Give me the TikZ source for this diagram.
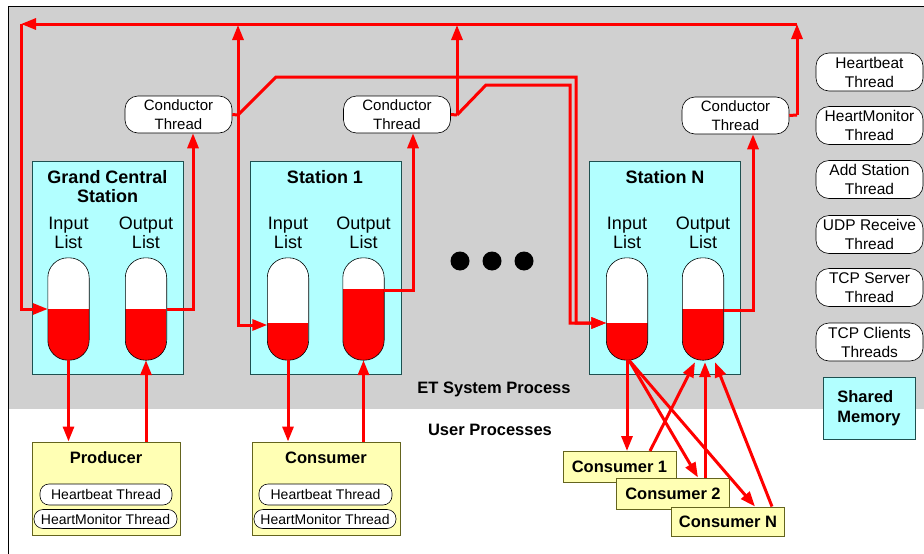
\documentclass[tikz,border=0pt]{standalone}
\usepackage{fontspec}
\setmainfont{Liberation Sans}
\usetikzlibrary{arrows.meta}

\definecolor{procgray}{RGB}{208,208,208}
\definecolor{stationcyan}{RGB}{178,255,255}
\definecolor{stationedge}{RGB}{30,80,80}
\definecolor{userfill}{RGB}{255,255,180}
\definecolor{useredge}{RGB}{100,100,30}
\definecolor{flowred}{RGB}{255,0,0}

% an event list drawn as a tube, filled with red up to a level
% #1 name, #2 centre x, #3 centre y, #4 y of the fill level
\newcommand\listtube[4]{%
  \node[tubeshape] (#1) at (#2,#3) {};
  \coordinate (#1lvl) at (#2,#4);
  \begin{scope}
    \clip[rounded corners=20pt] (#1.south west) rectangle (#1.north east);
    \fill[flowred] (#1.south west) rectangle (#1.east |- #1lvl);
  \end{scope}
  \draw[line width=0.6pt, rounded corners=20pt] (#1.south west) rectangle (#1.north east);
}

\begin{document}
\begin{tikzpicture}[x=1pt,y=-1pt,
  threadbox/.style={draw=black, fill=white, rounded corners=13pt, line width=0.6pt,
    minimum width=107pt, minimum height=37pt, inner sep=0pt, align=center,
    font=\fontsize{15}{19}\selectfont},
  sidethread/.style={threadbox, minimum height=38pt, font=\fontsize{15.5}{19}\selectfont},
  station/.style={draw=stationedge, fill=stationcyan, line width=1pt,
    minimum width=151pt, minimum height=213pt, inner sep=0pt},
  stationtitle/.style={font=\bfseries\fontsize{18}{19.5}\selectfont, align=center},
  listlabel/.style={font=\fontsize{18}{18.5}\selectfont, align=center},
  tubeshape/.style={fill=white, minimum width=41pt, minimum height=102pt,
    inner sep=0pt, rounded corners=20pt},
  userbox/.style={draw=useredge, fill=userfill, line width=1pt, inner sep=0pt},
  usertitle/.style={font=\bfseries\fontsize{16.5}{20}\selectfont},
  minithread/.style={draw=black, fill=white, rounded corners=9pt, line width=0.6pt,
    inner sep=0pt, font=\fontsize{14}{16}\selectfont},
  consumerbox/.style={userbox, minimum width=113pt, minimum height=31pt,
    font=\bfseries\fontsize{16.5}{20}\selectfont},
  flow/.style={draw=flowred, line width=3pt},
  flowarrow/.style={-{Triangle[length=15pt,width=11pt]}},
  proclabel/.style={font=\bfseries\fontsize{16.5}{20}\selectfont}
]
\useasboundingbox (0,0) rectangle (924,554);

% ET system process area and frame
\fill[procgray] (8,6) rectangle (924,409);
\draw[line width=1pt] (8,554) -- (8,6) -- (924,6);

% stations
\node[station] (gcs) at (107.5,267.5) {};
\node[station] (st1) at (325.5,267.5) {};
\node[station] (stN) at (665,267.5) {};

\node[stationtitle] (gcsT) at (107.5,186.5) {Grand Central\\Station};
\node[stationtitle] (st1T) at (325,177.5) {Station 1};
\node[stationtitle] (stNT) at (665,177.5) {Station N};

\node[listlabel] (giL) at (68.5,233) {Input\\List};
\node[listlabel] (goL) at (146,233) {Output\\List};
\node[listlabel] (s1iL) at (288,233) {Input\\List};
\node[listlabel] (s1oL) at (363.5,233) {Output\\List};
\node[listlabel] (sNiL) at (627,233) {Input\\List};
\node[listlabel] (sNoL) at (703,233) {Output\\List};

\listtube{gi}{68.5}{309}{309}
\listtube{go}{146}{309}{309}
\listtube{s1i}{288}{309}{323}
\listtube{s1o}{363.5}{309}{289}
\listtube{sNi}{627}{309}{323}
\listtube{sNo}{703}{309}{309}

% conductor threads
\node[threadbox] (c0) at (178.5,114.5) {Conductor\\Thread};
\node[threadbox] (c1) at (397,114.5) {Conductor\\Thread};
\node[threadbox] (cN) at (735.5,115.5) {Conductor\\Thread};

% more stations
\fill (460,261) circle (9.5pt);
\fill (492,261) circle (9.5pt);
\fill (524,261) circle (9.5pt);

\node[proclabel] (etp) at (494,389) {ET System Process};
\node[proclabel] (usp) at (490,430) {User Processes};

% system threads
\node[sidethread] (hb) at (869.5,72) {Heartbeat\\Thread};
\node[sidethread] (hm) at (869.5,125.5) {HeartMonitor\\Thread};
\node[sidethread] (as) at (869.5,179.5) {Add Station\\Thread};
\node[sidethread] (udp) at (869.5,234.5) {UDP Receive\\Thread};
\node[sidethread] (tcps) at (869.5,287.5) {TCP Server\\Thread};
\node[sidethread] (tcpc) at (869.5,342) {TCP Clients\\Threads};

\node[draw=stationedge, fill=stationcyan, line width=1pt, minimum width=92pt,
  minimum height=62pt, align=left, font=\bfseries\fontsize{16.5}{19.5}\selectfont]
  (shm) at (869,408) {Shared\\Memory};

% user processes
\node[userbox, minimum width=148pt, minimum height=93pt] (prod) at (106,488.5) {};
\node[usertitle] (prodT) at (106,458) {Producer};
\node[minithread, minimum width=132pt, minimum height=21pt] (prodHB) at (106,494.5) {Heartbeat Thread};
\node[minithread, minimum width=143pt, minimum height=19pt] (prodHM) at (105.5,519) {HeartMonitor Thread};

\node[userbox, minimum width=148pt, minimum height=93pt] (cons) at (326,488.5) {};
\node[usertitle] (consT) at (326,458) {Consumer};
\node[minithread, minimum width=133pt, minimum height=21pt] (consHB) at (325.5,494.5) {Heartbeat Thread};
\node[minithread, minimum width=142pt, minimum height=19pt] (consHM) at (325,519) {HeartMonitor Thread};

\node[consumerbox] (cu1) at (619.5,467) {Consumer 1};
\node[consumerbox] (cu2) at (673,493.5) {Consumer 2};
\node[consumerbox, minimum height=29pt] (cuN) at (728,521.5) {Consumer N};

% conductor routing
\coordinate (tl) at (21,24);
\coordinate (tr) at (797,24);
\coordinate (j0) at (238,115);
\coordinate (j1) at (457,115);
\coordinate (jN) at (797,115);
\coordinate (k0) at (193,309);
\coordinate (k1) at (413,290);
\coordinate (kN) at (753,310);

\draw[flow] (c0.east) -- (j0);
\draw[flow] (c1.east) -- (j1);
\draw[flow] (cN.east) -- (jN);

\draw[flow,flowarrow] (tr) -- (tl);
\draw[flow,flowarrow] (tl) -- (21,309) -- (gi.west);
\draw[flow,flowarrow] (j0) -- (238,25);
\draw[flow,flowarrow] (j1) -- (457,25);
\draw[flow,flowarrow] (jN) -- (tr);
\draw[flow,flowarrow] (j0) -- (238,325) -- ([yshift=-16pt]s1i.west);
\draw[flow,flowarrow] (j0) -- (276,77) -- (576,77) -- (576,323) -- ([yshift=-14pt]sNi.west);
\draw[flow,flowarrow] (j1) -- (486,85) -- (570,85) -- (570,323) -- ([yshift=-14pt]sNi.west);

% output lists to conductors
\draw[flow,flowarrow] (go.east) -- (k0) -- (k0 |- c0.south);
\draw[flow,flowarrow] ([yshift=19pt]s1o.east) -- (k1) -- (k1 |- c1.south);
\draw[flow,flowarrow] ([yshift=-1pt]sNo.east) -- (kN) -- (kN |- cN.south);

% lists to and from user processes
\draw[flow,flowarrow] (gi.south) -- (gi.south |- prod.north);
\draw[flow,flowarrow] (prod.north -| go.south) -- (go.south);
\draw[flow,flowarrow] (s1i.south) -- (s1i.south |- cons.north);
\draw[flow,flowarrow] (cons.north -| s1o.south) -- (s1o.south);

\draw[flow,flowarrow] (sNi.south) -- (sNi.south |- cu1.north);
\draw[flow,flowarrow] ([xshift=2pt]sNi.south) -- ([xshift=25pt]cu2.north);
\draw[flow,flowarrow] ([xshift=2pt]sNi.south) -- ([xshift=27pt]cuN.north);
\draw[flow,flowarrow] ([xshift=30.5pt]cu1.north) -- ([xshift=-8pt,yshift=-2pt]sNo.south);
\draw[flow,flowarrow] ([xshift=32pt]cu2.north) -- ([xshift=2pt,yshift=-2pt]sNo.south);
\draw[flow,flowarrow] ([xshift=44pt]cuN.north) -- ([xshift=12pt,yshift=-2pt]sNo.south);
\end{tikzpicture}
\end{document}
